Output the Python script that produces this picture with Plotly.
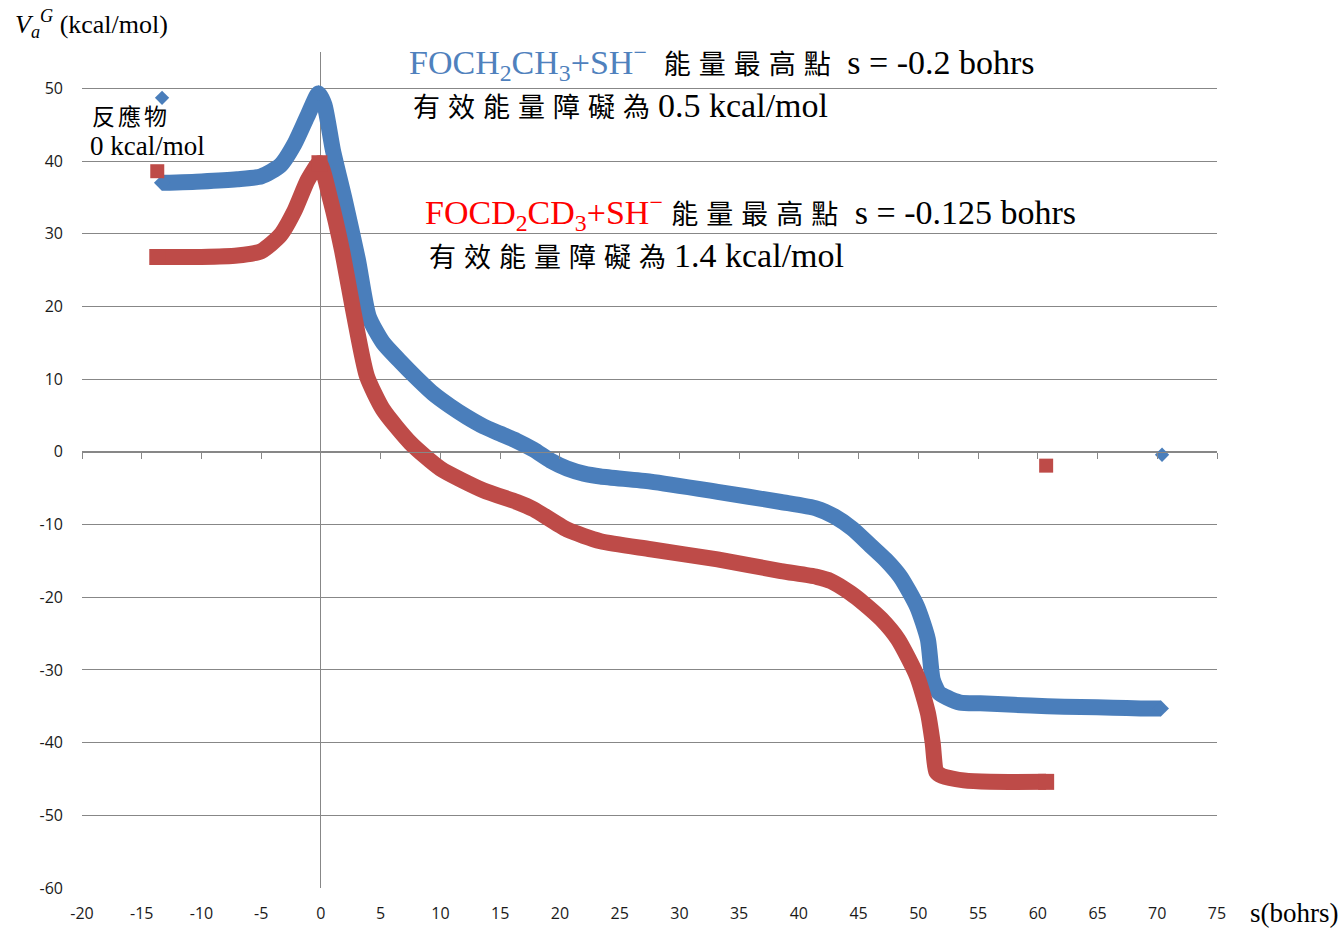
import plotly.graph_objects as go

# Reaction path s (bohrs) and vibrationally adiabatic potential V_a^G (kcal/mol)
s_h = [-13.3, -10.0, -7.0, -5.0, -3.4, -2.2, -1.1, -0.2, 0.3, 1.0, 2.0, 3.1, 4.0, 5.2,
       6.6, 8.1, 9.4, 10.8, 12.2, 13.6, 15.0, 16.4, 17.8, 19.2, 20.6, 22.0, 23.4, 27.6,
       33.2, 38.5, 41.5, 43.0, 44.5, 46.0, 47.3, 48.5, 49.9, 50.8, 51.2, 51.7, 52.4,
       53.5, 55.2, 58.0, 60.8, 63.6, 66.3, 68.6, 70.3]
v_h = [37.0, 37.2, 37.5, 37.9, 39.4, 42.4, 46.3, 49.3, 47.7, 41.5, 34.6, 26.4, 18.6, 15.0,
       12.5, 10.0, 8.0, 6.3, 4.8, 3.5, 2.5, 1.5, 0.3, -1.2, -2.3, -3.0, -3.4, -4.1,
       -5.5, -6.9, -7.8, -8.9, -10.6, -12.9, -14.9, -17.2, -21.3, -25.8, -31.3, -33.1, -33.8,
       -34.5, -34.6, -34.8, -35.0, -35.1, -35.2, -35.3, -35.3]

s_d = [-13.7, -10.0, -7.0, -5.0, -3.4, -2.2, -1.1, -0.125, 0.8, 1.75, 2.8, 3.85, 5.2,
       7.5, 10.0, 13.6, 16.4, 17.8, 20.6, 23.4, 27.6, 33.2, 38.5, 41.5, 42.7,
       44.3, 45.4, 46.9, 48.3, 49.9, 50.8, 51.2, 51.5, 52.0, 53.8, 56.0, 60.7]
v_d = [26.8, 26.8, 27.0, 27.6, 29.8, 33.2, 37.4, 39.7, 34.6, 27.8, 18.6, 10.4, 5.8,
       1.2, -2.3, -5.3, -6.9, -7.9, -10.7, -12.3, -13.4, -14.8, -16.4, -17.2, -17.8,
       -19.4, -20.8, -23.0, -25.8, -30.9, -35.9, -40.0, -44.0, -44.6, -45.2, -45.4, -45.4]

# Reactant / product end points
s_h_ends = [-13.3, 70.4]
v_h_ends = [48.7, -0.4]
s_d_ends = [-13.7, 60.7]
v_d_ends = [38.6, -1.9]

x_ticks = list(range(-20, 80, 5))
y_ticks = list(range(-60, 60, 10))

BLUE = "#4A7EBB"
RED = "#BE4B48"
GRID = "#878787"
SERIF = "Liberation Serif, Times New Roman, Noto Sans CJK TC, serif"
CJK = "font-family:Noto Sans CJK TC;font-size:27px;letter-spacing:8px"


def end_and_peak_sizes(values, size):
    """Marker only at both ends and at the barrier top, hidden elsewhere."""
    top = values.index(max(values))
    return [size if i in (0, len(values) - 1, top) else 0 for i in range(len(values))]


fig = go.Figure()
fig.add_trace(go.Scatter(
    x=s_h, y=v_h, mode="lines+markers",
    line=dict(color=BLUE, width=16, shape="spline", smoothing=0.6),
    marker=dict(symbol="diamond", size=end_and_peak_sizes(v_h, 12.5), color=BLUE,
                line=dict(width=0), opacity=1),
    showlegend=False, hoverinfo="x+y"))
fig.add_trace(go.Scatter(
    x=s_d, y=v_d, mode="lines+markers",
    line=dict(color=RED, width=16, shape="spline", smoothing=0.6),
    marker=dict(symbol="square", size=end_and_peak_sizes(v_d, 16), color=RED,
                line=dict(width=0), opacity=1),
    showlegend=False, hoverinfo="x+y"))
fig.add_trace(go.Scatter(
    x=s_h_ends, y=v_h_ends, mode="markers", xaxis="x2",
    marker=dict(symbol="diamond", size=11, color=BLUE, line=dict(width=0)),
    showlegend=False))
fig.add_trace(go.Scatter(
    x=s_d_ends, y=v_d_ends, mode="markers", xaxis="x2",
    marker=dict(symbol="square", size=14, color=RED, line=dict(width=0)),
    showlegend=False))

tick_font = dict(family="Open Sans, Liberation Sans, sans-serif", size=16, color="#1a1a1a")

fig.update_layout(
    width=1342, height=929,
    margin=dict(l=82, r=125, t=52, b=41),
    paper_bgcolor="white", plot_bgcolor="white",
    xaxis=dict(range=[-20, 75], tickvals=x_ticks, ticktext=[str(v) for v in x_ticks],
               showgrid=False, zeroline=True, zerolinecolor=GRID, zerolinewidth=1,
               showline=False, ticks="", tickfont=tick_font,
               ticklabelstandoff=14, automargin=False),
    xaxis2=dict(overlaying="x", matches="x", anchor="free",
                position=60 / 115, side="bottom",
                showline=True, linecolor=GRID, linewidth=1,
                ticks="outside", ticklen=6, tickcolor=GRID, tickwidth=1,
                tickvals=x_ticks, showticklabels=False,
                showgrid=False, zeroline=False, automargin=False),
    yaxis=dict(range=[-60, 55], tickvals=y_ticks, ticktext=[str(v) for v in y_ticks],
               showgrid=True, gridcolor=GRID, gridwidth=1, zeroline=False, showline=False,
               ticks="", tickfont=tick_font, ticklabelstandoff=18, automargin=False),
)

annotations = [
    dict(xref="paper", yref="paper", x=-0.0605, y=1.034,
         text="<i>V</i><sub><i>a</i></sub><sup><i>G</i></sup> (kcal/mol)",
         font=dict(family=SERIF, size=26, color="black")),
    dict(xref="paper", yref="paper", x=1.0276, y=-0.030,
         text="s(bohrs)", font=dict(family=SERIF, size=27, color="black")),
    dict(xref="x", yref="y", x=-19.3, y=46.3,
         text='<span style="font-family:Noto Sans CJK TC;font-size:23px;letter-spacing:3px">反應物</span>',
         font=dict(family=SERIF, size=27, color="black")),
    dict(xref="x", yref="y", x=-19.5, y=42.1,
         text="0 kcal/mol", font=dict(family=SERIF, size=27, color="black")),
    dict(xref="x", yref="y", x=7.2, y=53.6,
         text=(f'<span style="color:#4F81BD">FOCH<sub>2</sub>CH<sub>3</sub>+SH<sup>−</sup></span>&nbsp; '
               f'<span style="{CJK}">能量最高點</span> s = -0.2 bohrs'),
         font=dict(family=SERIF, size=34, color="black")),
    dict(xref="x", yref="y", x=7.5, y=47.7,
         text=f'<span style="{CJK}">有效能量障礙為</span>0.5 kcal/mol',
         font=dict(family=SERIF, size=34, color="black")),
    dict(xref="x", yref="y", x=8.5, y=32.9,
         text=(f'<span style="color:#FF0000">FOCD<sub>2</sub>CD<sub>3</sub>+SH<sup>−</sup></span> '
               f'<span style="{CJK}">能量最高點</span> s = -0.125 bohrs'),
         font=dict(family=SERIF, size=34, color="black")),
    dict(xref="x", yref="y", x=8.9, y=27.0,
         text=f'<span style="{CJK}">有效能量障礙為</span>1.4 kcal/mol',
         font=dict(family=SERIF, size=34, color="black")),
]
for a in annotations:
    a.update(showarrow=False, xanchor="left", yanchor="middle", align="left")
fig.update_layout(annotations=annotations)

fig.write_html("out.html")
